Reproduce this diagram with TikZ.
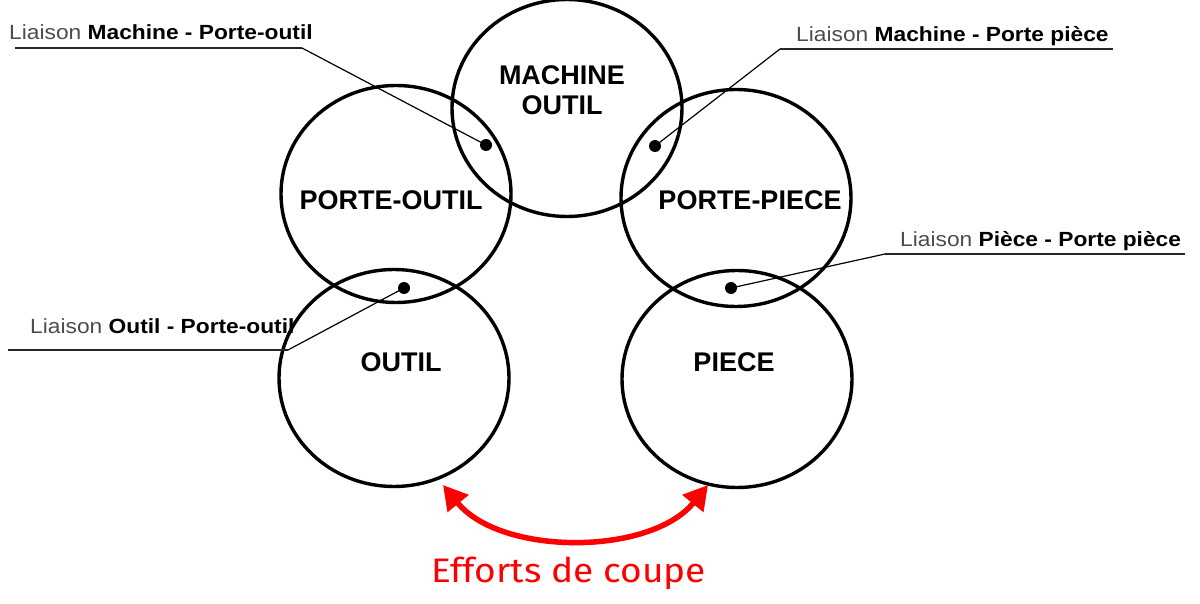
\documentclass[tikz,border=0pt]{standalone}
\usepackage{fontspec}
\setmainfont{Liberation Sans}
\newfontfamily\effortfont{Fira Sans}
\usetikzlibrary{shapes.geometric,arrows.meta}
\definecolor{effred}{HTML}{FF0000}
\begin{document}
\begin{tikzpicture}[x=1pt,y=-1pt,
  ring/.style={draw=black,line width=3.4pt,ellipse,minimum width=230pt,minimum height=217pt,inner sep=0pt},
  big/.style={font=\fontsize{27}{30.3}\selectfont\bfseries,align=center,inner sep=0pt},
  lbl/.style={font=\fontsize{20.5}{24}\selectfont,inner sep=0pt,anchor=base west,xscale=1.11},
  uline/.style={draw=black!85,line width=1.8pt},
  leader/.style={draw=black,line width=1.2pt},
  dotn/.style={circle,fill=black,inner sep=0pt,minimum size=12pt},
  effort/.style={draw=effred,line width=5.5pt,{Triangle[length=24pt,width=26pt]}-{Triangle[length=24pt,width=26pt]}}
]
\useasboundingbox (0,0) rectangle (1200,604);
% rings
\node[ring] (machine) at (567,108) {};
\node[ring] (porteoutil) at (396,194) {};
\node[ring] (portepiece) at (736,198) {};
\node[ring] (outil) at (394,378) {};
\node[ring] (piece) at (737,379) {};
% ring texts
\node[big] (tmachine) at (562,90) {MACHINE\\OUTIL};
\node[big] (tporteoutil) at (391,200) {PORTE-OUTIL};
\node[big] (tportepiece) at (750,200) {PORTE-PIECE};
\node[big] (toutil) at (401,362) {OUTIL};
\node[big] (tpiece) at (734,362) {PIECE};
% dots
\node[dotn] (d1) at (486,145) {};
\node[dotn] (d2) at (655,146) {};
\node[dotn] (d3) at (731,288) {};
\node[dotn] (d4) at (404,288) {};
% labels
\node[lbl] (l1) at (9,40) {\textcolor{black!70}{Liaison} \textbf{Machine - Porte-outil}};
\node[lbl] (l2) at (796,42) {\textcolor{black!70}{Liaison} \textbf{Machine - Porte pièce}};
\node[lbl] (l3) at (900,247) {\textcolor{black!70}{Liaison} \textbf{Pièce - Porte pièce}};
\node[lbl] (l4) at (30,334) {\textcolor{black!70}{Liaison} \textbf{Outil - Porte-outil}};
% underline ends
\coordinate (u1a) at (15,48);  \coordinate (u1b) at (302,48);
\coordinate (u2a) at (1113,49); \coordinate (u2b) at (780,49);
\coordinate (u3a) at (1185,254); \coordinate (u3b) at (885,254);
\coordinate (u4a) at (8,350);  \coordinate (u4b) at (288,350);
\draw[uline] (u1a) -- (u1b);
\draw[uline] (u2a) -- (u2b);
\draw[uline] (u3a) -- (u3b);
\draw[uline] (u4a) -- (u4b);
\draw[leader] (u1b) -- (d1.center);
\draw[leader] (u2b) -- (d2.center);
\draw[leader] (u3b) -- (d3.center);
\draw[leader] (u4b) -- (d4.center);
% efforts
\coordinate (ea) at (443,485);
\coordinate (eb) at (708,485);
\draw[effort] (ea) .. controls (501,556) and (650,556) .. (eb);
\node[font=\effortfont\fontsize{34}{36}\selectfont,text=effred,anchor=base,inner sep=0pt,xscale=1.09] (teff) at (568.5,582) {Efforts de coupe};
\end{tikzpicture}
\end{document}
